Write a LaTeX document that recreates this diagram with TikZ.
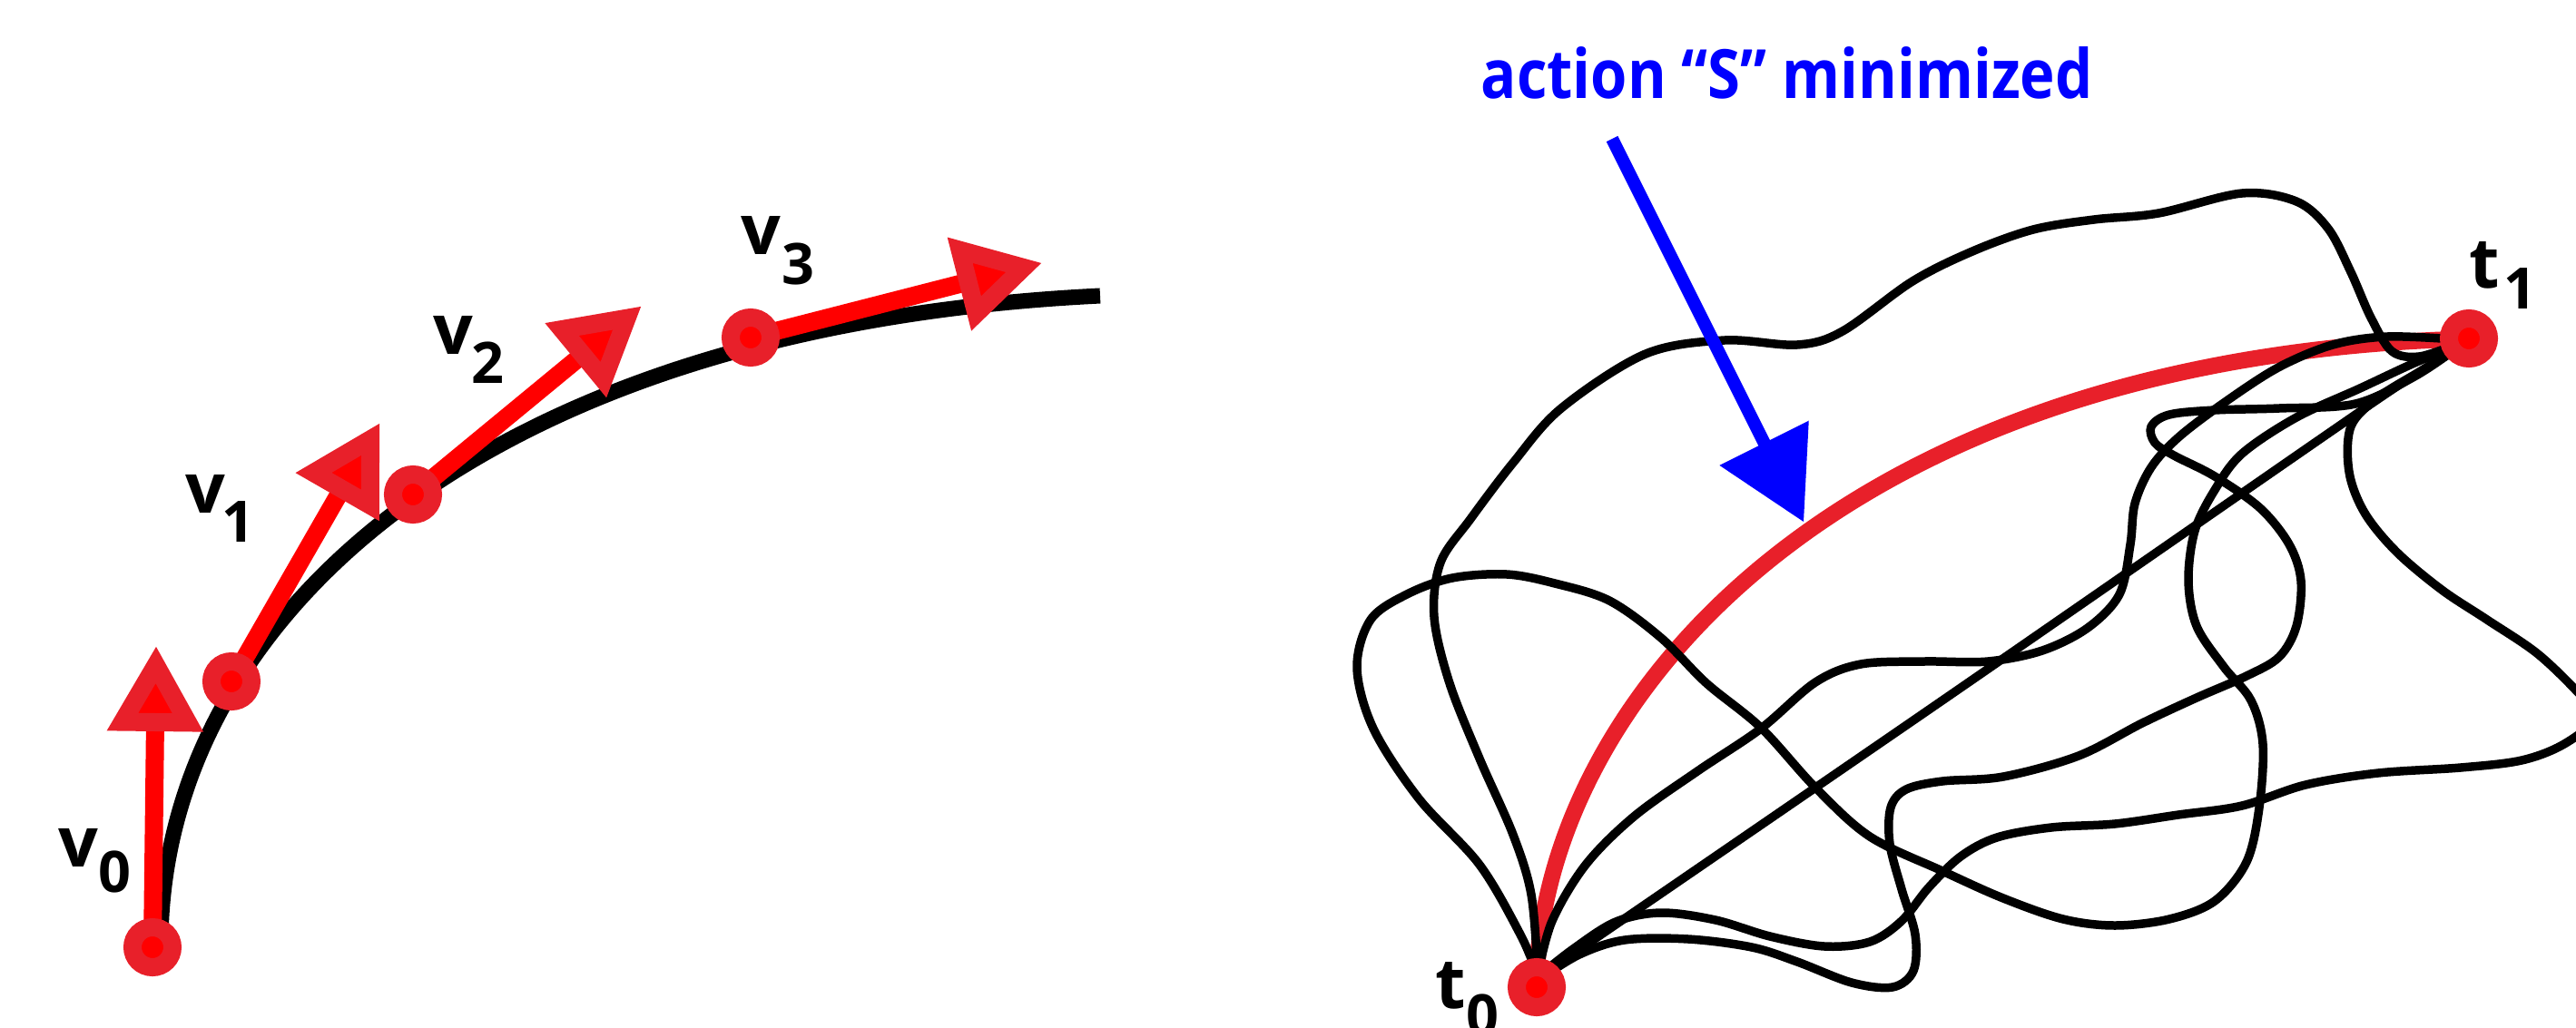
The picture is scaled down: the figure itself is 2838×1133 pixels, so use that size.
\documentclass[tikz,border=0pt]{standalone}
\usepackage{fontspec}
\setmainfont{Open Sans}
\usetikzlibrary{calc}
\definecolor{ring}{RGB}{232,32,42}
\definecolor{pure}{RGB}{255,0,0}
\definecolor{blu}{RGB}{0,0,255}
\tikzset{
  curveblk/.style={line width=4.85pt, black},
  wig/.style={line width=2.7pt, black, line cap=round, line join=round},
  shaft/.style={line width=5.69pt, pure},
  dotnode/.style={circle, draw=ring, fill=pure, line width=5.69pt, minimum size=0.44cm, inner sep=0pt},
  headtri/.style={draw=ring, fill=pure, line width=5.69pt, line join=miter},
  lab/.style={font=\bfseries\fontsize{21.9}{24}\selectfont, inner sep=0pt, anchor=base west},
  subl/.style={font=\bfseries\fontsize{17.9}{20}\selectfont, inner sep=0pt, anchor=base},
  minpath/.style={line width=5.1pt, ring, line cap=round},
  bshaft/.style={line width=4pt, blu},
  pics/redhead/.style={code={\filldraw[headtri] (-20,0) -- (-83,36) -- (-83,-36) -- cycle;}},
  pics/bluehead/.style={code={\fill[blu] (0,0) -- (-97,55) -- (-97,-55) -- cycle;}},
}
\begin{document}
\begin{tikzpicture}[x=0.01cm, y=-0.01cm]
\useasboundingbox (0,0) rectangle (2838,1133);
\fill[white] (0,0) rectangle (2838,1133);
\clip (0,0) rectangle (2838,1133);

% ---------- left panel ----------
\coordinate (p0) at (168,1044);
\coordinate (p1) at (255,751);
\coordinate (p2) at (455,545);
\coordinate (p3) at (827,372);
\coordinate (q0) at (172,713);
\coordinate (q1) at (418,467);
\coordinate (q2) at (706,338);
\coordinate (q3) at (1147,290);
\coordinate (cstart) at (177,1040);
\coordinate (cend) at (1212,326);

\draw[curveblk] (cstart) .. controls (178,690) and (520,360) .. (cend);

\draw[shaft] (p0) -- ($(q0)!0.7cm!(p0)$);
\draw[shaft] (p1) -- ($(q1)!0.7cm!(p1)$);
\draw[shaft] (p2) -- ($(q2)!0.7cm!(p2)$);
\draw[shaft] (p3) -- ($(q3)!0.7cm!(p3)$);
\pic[rotate=89.31] at (q0) {redhead};
\pic[rotate=60.14] at (q1) {redhead};
\pic[rotate=39.5] at (q2) {redhead};
\pic[rotate=14.37] at (q3) {redhead};
\node[dotnode] (d0) at (p0) {};
\node[dotnode] (d1) at (p1) {};
\node[dotnode] (d2) at (p2) {};
\node[dotnode] (d3) at (p3) {};

\node[lab] (lv0) at (64,955) {v};
\node[subl] (lv0s) at (126,983) {0};
\node[lab] (lv1) at (204,565) {v};
\node[subl] (lv1s) at (262,597) {1};
\node[lab] (lv2) at (477,390) {v};
\node[subl] (lv2s) at (537,422) {2};
\node[lab] (lv3) at (816,280) {v};
\node[subl] (lv3s) at (879,313) {3};

% ---------- right panel ----------
\coordinate (s0) at (1693,1088);
\coordinate (s1) at (2720,373);
\coordinate (r0) at (1693,1080);
\coordinate (r1) at (2700,374);

\draw[minpath] (r0) .. controls (1700,790) and (2000,400) .. (r1);

% path A
\draw[wig] plot[smooth, tension=0.55] coordinates {(1694,1070) (1687,986) (1667,920) (1630,836) (1597,753) (1580,680) (1587,620) (1620,572) (1667,510) (1720,450) (1813,390) (1900,375) (1980,380) (2030,365) (2107,310) (2173,277) (2240,253) (2307,242) (2378,235) (2470,213) (2530,222) (2565,252) (2590,300) (2612,350) (2635,387) (2665,393) (2705,380)};
% path B
\draw[wig] plot[smooth, tension=0.55] coordinates {(1692,1070) (1675,1030) (1630,953) (1563,880) (1513,803) (1495,736) (1510,683) (1550,655) (1600,637) (1660,633) (1713,643) (1773,662) (1830,703) (1880,753) (1940,802) (2000,868) (2060,922) (2140,960) (2207,990) (2273,1013) (2330,1020) (2390,1013) (2440,993) (2475,950) (2489,890) (2493,820) (2480,772) (2450,735) (2420,690) (2411,640) (2418,585) (2440,540) (2470,500) (2530,460) (2600,428) (2660,400) (2705,382)};
% path C
\draw[wig] plot[smooth, tension=0.55] coordinates {(1695,1076) (1733,1046) (1780,1016) (1830,1006) (1890,1014) (1950,1032) (2010,1043) (2060,1038) (2095,1015) (2125,978) (2160,944) (2200,923) (2260,912) (2330,908) (2400,898) (2470,888) (2540,865) (2620,852) (2711,846) (2778,838) (2825,820) (2860,790) (2840,763) (2795,720) (2740,683) (2690,650) (2640,608) (2605,565) (2588,520) (2590,470) (2620,438) (2665,410) (2705,386)};
% path E
\draw[wig] plot[smooth, tension=0.5] coordinates {(1694,1078) (2150,765) (2595,457) (2660,414) (2705,385)};
% path H
\draw[wig] plot[smooth, tension=0.55] coordinates {(1694,1075) (1710,1015) (1747,953) (1800,900) (1870,850) (1940,803) (2000,752) (2050,732) (2120,729) (2190,729) (2250,717) (2300,692) (2335,655) (2347,600) (2352,555) (2370,515) (2400,482) (2450,444) (2510,405) (2570,380) (2630,371) (2705,374)};
% path K
\draw[wig] plot[smooth, tension=0.55] coordinates {(2705,385) (2660,415) (2595,445) (2511,450) (2440,452) (2390,457) (2370,470) (2374,488) (2395,502) (2440,525) (2490,560) (2522,600) (2535,640) (2530,690) (2511,724) (2475,745) (2420,769) (2360,797) (2290,833) (2207,856) (2140,861) (2100,870) (2083,890) (2082,930) (2095,980) (2110,1030) (2108,1070) (2085,1088) (2040,1083) (1980,1060) (1930,1044) (1860,1035) (1790,1036) (1740,1052) (1695,1080)};

\node[dotnode] (t0) at (s0) {};
\node[dotnode] (t1) at (s1) {};

\node[lab] (lt1) at (2720,317) {t};
\node[subl] (lt1s) at (2776,340) {1};
\node[lab] (lt0) at (1581,1111) {t};
\node[subl] (lt0s) at (1633,1141) {0};

% blue arrow and title
\coordinate (btail) at (1776,153);
\coordinate (btip) at (1987,575);
\draw[bshaft] (btail) -- ($(btip)!0.8cm!(btail)$);
\pic[rotate=-63.4] at (btip) {bluehead};
\node[anchor=base west, inner sep=0pt, text=blu, font=\bfseries\fontsize{21.3}{24}\selectfont] (title) at (1631,108) {\scalebox{0.87}[1]{action “S” minimized}};
\end{tikzpicture}
\end{document}
